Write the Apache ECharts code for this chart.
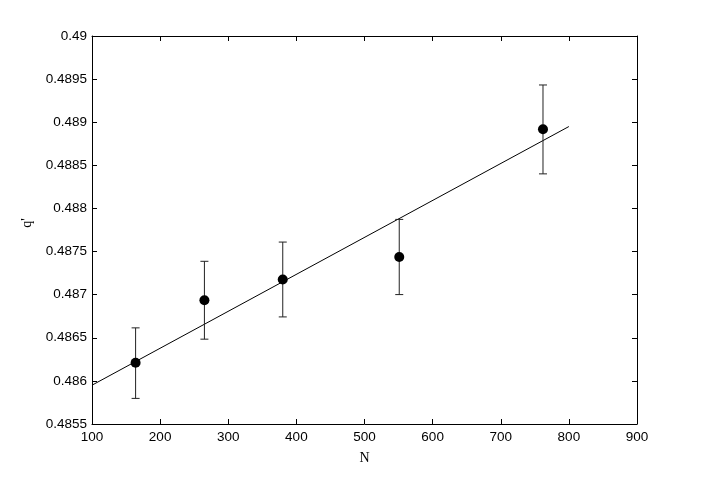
<!DOCTYPE html>
<html><head><meta charset="utf-8">
<script src="https://cdn.jsdelivr.net/npm/echarts@6/dist/echarts.min.js"></script>
<style>html,body{margin:0;padding:0;background:#fff}#c{width:704px;height:477px}</style>
</head><body><div id="c"></div>
<script>
const N = [164, 265, 380, 551, 762];
const q = [0.48621, 0.486935, 0.487175, 0.487437, 0.488918];
const qLow = [0.485797, 0.486484, 0.486742, 0.487001, 0.488401];
const qHigh = [0.486615, 0.487387, 0.48761, 0.487873, 0.489432];
const fitN = [100, 800];
const fitQ = [0.48595, 0.48895];
const xTicks = [100, 900, 100];   // min, max, interval
const yTicks = [0.4855, 0.49, 0.0005];

const chart = echarts.init(document.getElementById('c'));
const tickFont = {fontFamily: 'Liberation Sans', fontSize: 13.5, color: '#000'};
const axisCommon = {
  axisLine: {show: true, onZero: false, lineStyle: {color: '#000', width: 1}},
  axisTick: {show: true, inside: true, length: 5, lineStyle: {color: '#000'}},
  splitLine: {show: false}
};
chart.setOption({
  animation: false,
  grid: {left: 92, right: 67, top: 36, bottom: 53},
  xAxis: [
    Object.assign({type: 'value', min: xTicks[0], max: xTicks[1], interval: xTicks[2],
      name: 'N', nameLocation: 'middle', nameGap: 27,
      nameTextStyle: {fontFamily: 'Liberation Serif', fontSize: 14, color: '#000'},
      axisLabel: Object.assign({margin: 6}, tickFont)}, axisCommon),
    Object.assign({type: 'value', position: 'top', min: xTicks[0], max: xTicks[1], interval: xTicks[2],
      axisLabel: {show: false}}, axisCommon)
  ],
  yAxis: [
    Object.assign({type: 'value', min: yTicks[0], max: yTicks[1], interval: yTicks[2],
      name: "q'", nameLocation: 'middle', nameGap: 56, nameRotate: 90,
      nameTextStyle: {fontFamily: 'Liberation Serif', fontSize: 14, color: '#000', padding: [0, 0, 0, 14]},
      axisLabel: Object.assign({margin: 5, formatter: v => String(+v.toFixed(4))}, tickFont)}, axisCommon),
    Object.assign({type: 'value', position: 'right', min: yTicks[0], max: yTicks[1], interval: yTicks[2],
      axisLabel: {show: false}}, axisCommon)
  ],
  series: [
    {
      type: 'line', data: fitN.map((n, i) => [n, fitQ[i]]), symbol: 'none',
      lineStyle: {color: '#000', width: 1}, z: 2
    },
    {
      type: 'custom', z: 3,
      data: N.map((n, i) => [n, qLow[i], qHigh[i]]),
      renderItem: function (params, api) {
        const lo = api.coord([api.value(0), api.value(1)]);
        const hi = api.coord([api.value(0), api.value(2)]);
        const w = 4;
        const st = {stroke: '#222', lineWidth: 1};
        return {type: 'group', children: [
          {type: 'line', shape: {x1: hi[0], y1: hi[1], x2: lo[0], y2: lo[1]}, style: st},
          {type: 'line', shape: {x1: hi[0] - w, y1: hi[1], x2: hi[0] + w, y2: hi[1]}, style: st},
          {type: 'line', shape: {x1: lo[0] - w, y1: lo[1], x2: lo[0] + w, y2: lo[1]}, style: st}
        ]};
      }
    },
    {
      type: 'scatter', data: N.map((n, i) => [n, q[i]]), symbol: 'circle', symbolSize: 10,
      itemStyle: {color: '#000', opacity: 1}, z: 4
    }
  ]
});
</script></body></html>
